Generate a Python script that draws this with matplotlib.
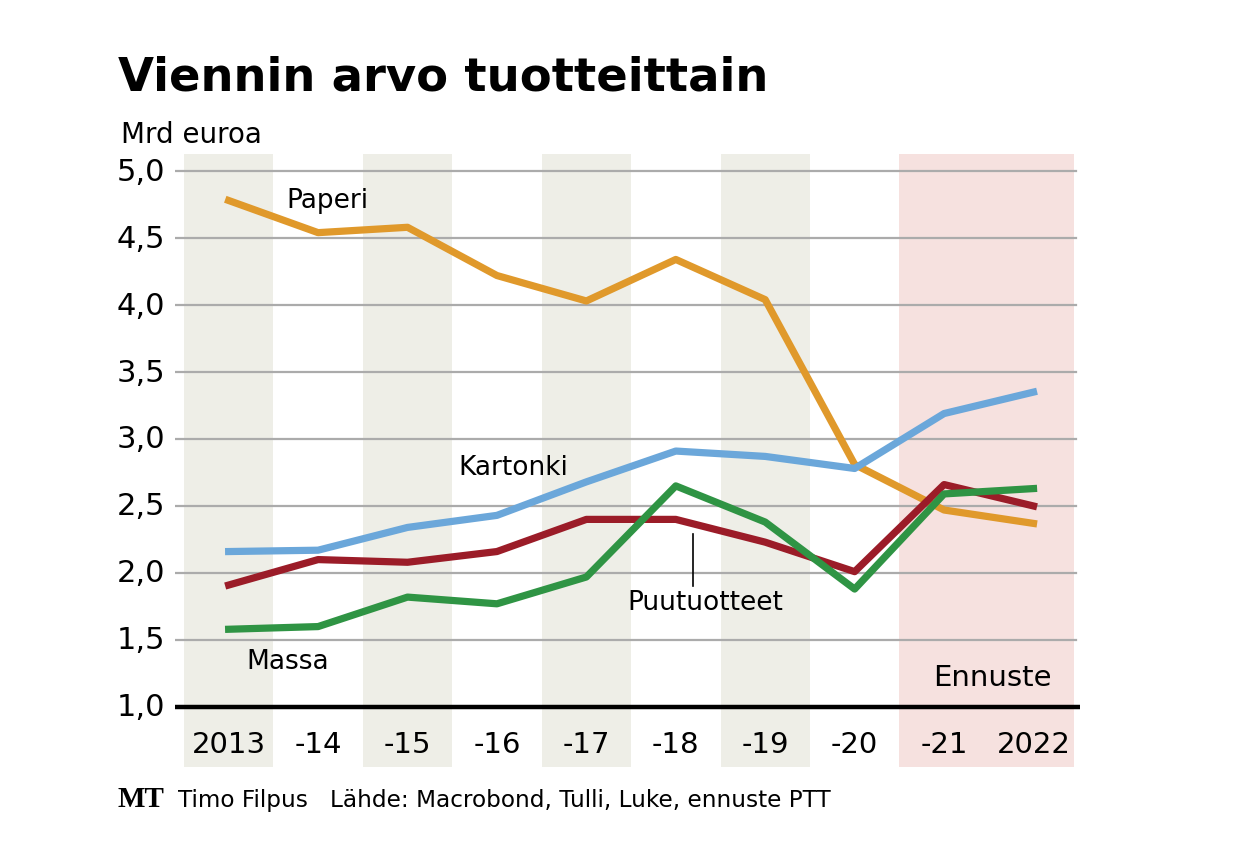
import matplotlib.pyplot as plt

plt.rcParams['font.family'] = ['DejaVu Sans Condensed', 'DejaVu Sans']

years = ['2013', '-14', '-15', '-16', '-17', '-18', '-19', '-20', '-21', '2022']
paperi = [4.78, 4.54, 4.58, 4.22, 4.03, 4.34, 4.04, 2.81, 2.47, 2.37]
kartonki = [2.16, 2.17, 2.34, 2.43, 2.68, 2.91, 2.87, 2.78, 3.19, 3.35]
puutuotteet = [1.91, 2.10, 2.08, 2.16, 2.40, 2.40, 2.23, 2.01, 2.66, 2.50]
massa = [1.58, 1.60, 1.82, 1.77, 1.97, 2.65, 2.38, 1.88, 2.59, 2.63]
yticks = [1.0, 1.5, 2.0, 2.5, 3.0, 3.5, 4.0, 4.5, 5.0]

W, H = 1240, 854
fig = plt.figure(figsize=(W / 100, H / 100), dpi=100)
# axes from pixel x 175..1080, y 155..768
ax = fig.add_axes([175 / W, 1 - 768 / H, 905 / W, 613 / H])
ax.set_xlim(-0.6, 9.52)
ax.set_ylim(0.552, 5.127)
ax.axis('off')

x = list(range(len(years)))

# shaded bands
for i in [0, 2, 4, 6]:
    ax.axvspan(i - 0.5, i + 0.5, color='#eeeee7', lw=0, zorder=0)
ax.axvspan(7.5, 9.45, color='#f6e1df', lw=0, zorder=0)

for v in yticks[1:]:
    ax.plot([-0.6, 9.47], [v, v], color='#ababab', lw=1.6, zorder=1)
ax.plot([-0.6, 9.52], [1.0, 1.0], color='black', lw=3.2, zorder=5, solid_capstyle='butt')

for v in yticks:
    ax.text(-0.71, v, f'{v:.1f}'.replace('.', ','), ha='right', va='center',
            fontsize=22, clip_on=False)

for i, lab in zip(x, years):
    ax.text(i, 0.72, lab, ha='center', va='center', fontsize=21)

lw = 5.2
ax.plot(x, paperi, color='#e0992b', lw=lw, zorder=3)
ax.plot(x, kartonki, color='#6ba7da', lw=lw, zorder=3)
ax.plot(x, puutuotteet, color='#9b1c28', lw=lw, zorder=3)
ax.plot(x, massa, color='#2f9444', lw=lw, zorder=4)

ax.text(1.1, 4.78, 'Paperi', ha='center', va='center', fontsize=19)
ax.text(3.18, 2.79, 'Kartonki', ha='center', va='center', fontsize=19)
ax.text(5.33, 1.78, 'Puutuotteet', ha='center', va='center', fontsize=19)
ax.plot([5.19, 5.19], [1.90, 2.29], color='black', lw=1.2, zorder=2)
ax.text(0.66, 1.34, 'Massa', ha='center', va='center', fontsize=19)
ax.text(8.54, 1.22, 'Ennuste', ha='center', va='center', fontsize=21)

fig.text(118 / W, 1 - 78 / H, 'Viennin arvo tuotteittain', fontsize=33.5,
         fontweight='bold', ha='left', va='center')
fig.text(121 / W, 1 - 135 / H, 'Mrd euroa', fontsize=20, ha='left', va='center')
fig.text(117 / W, 1 - 800 / H, 'MT', fontsize=21, fontweight='bold',
         family=['Liberation Serif', 'DejaVu Serif'], ha='left', va='center')
fig.text(178 / W, 1 - 801 / H, 'Timo Filpus   Lähde: Macrobond, Tulli, Luke, ennuste PTT',
         fontsize=16.7, ha='left', va='center')

fig.savefig('out.png', dpi=100)
